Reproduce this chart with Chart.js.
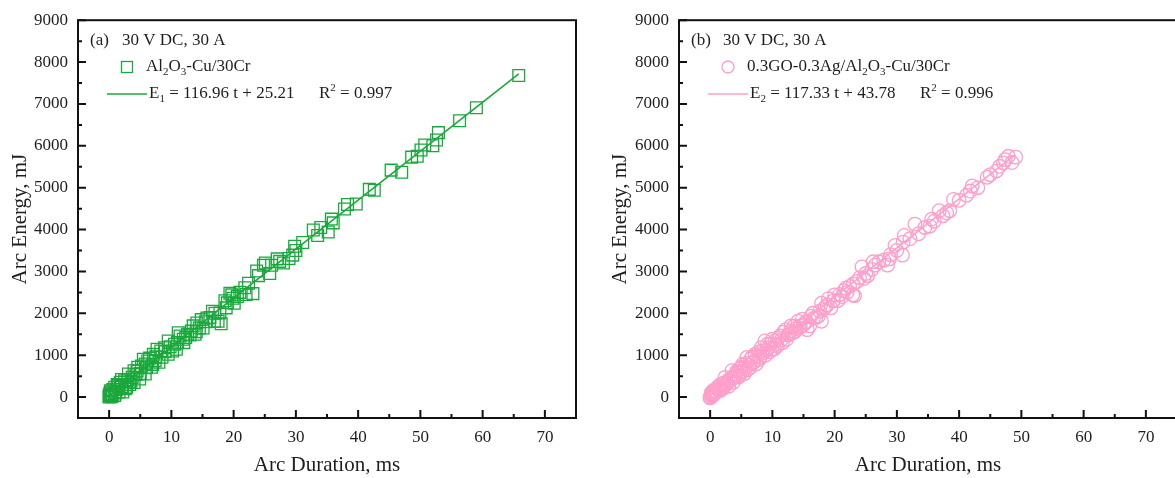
<!DOCTYPE html>
<html>
<head>
<meta charset="utf-8">
<script src="https://cdn.jsdelivr.net/npm/chart.js@4/dist/chart.umd.min.js"></script>
<style>
  html, body { margin: 0; padding: 0; width: 1175px; height: 478px; overflow: hidden; background: #fff; }
  .panel { position: absolute; top: 0; }
</style>
</head>
<body>
<div class="panel" style="left:0px"><canvas id="chartA" width="600" height="478"></canvas></div>
<div class="panel" style="left:600px"><canvas id="chartB" width="600" height="478"></canvas></div>
<script>
// axis ticks
const xTicks = [0, 10, 20, 30, 40, 50, 60, 70];
const xMinorTicks = [5, 15, 25, 35, 45, 55, 65];
const yTicks = [0, 1000, 2000, 3000, 4000, 5000, 6000, 7000, 8000, 9000];
const yMinorTicks = [500, 1500, 2500, 3500, 4500, 5500, 6500, 7500, 8500];

// (a) Al2O3-Cu/30Cr : arc duration (ms) / arc energy (mJ)
const durationA = [0.0, 0.0, 0.1, 0.2, 0.3, 0.2, 0.5, 0.9, 0.9, 1.2, 1.5, 1.8, 1.6, 2.2, 2.5, 2.8, 3.1, 3.3, 3.7, 4.0,
  4.0, 4.6, 4.9, 5.5, 5.8, 5.8, 6.5, 6.8, 7.1, 7.4, 7.7, 8.0, 8.3, 8.9, 9.5, 9.5, 10.5, 10.8, 11.1, 11.4,
  11.9, 12.0, 12.6, 13.2, 13.8, 14.1, 14.5, 14.8, 15.1, 15.7, 16.6, 16.9, 17.5, 17.8, 18.6, 18.8, 19.4, 19.7, 19.9, 20.1,
  20.6, 21.8, 22.4, 23.1, 23.7, 24.8, 25.1, 25.8, 26.1, 27.4, 28.9, 29.5, 29.8, 31.1, 32.8, 33.5, 35.2, 35.7, 36.0, 37.8,
  38.3, 39.7, 41.8, 42.6, 45.3, 47.0, 48.6, 49.5, 50.1, 50.7, 52.0, 52.6, 52.9, 56.3, 59.0, 65.8,
  0.4, 0.6, 1.0, 1.3, 2.0, 2.0, 2.6, 3.0, 3.5, 4.3, 4.5, 5.0, 5.2, 6.0, 6.2, 7.0, 7.5, 8.5, 9.0, 9.8,
  10.2, 11.0, 12.3, 13.0, 13.5, 14.0, 15.5, 16.2, 17.0, 18.0, 19.0, 21.0, 22.0, 24.0, 27.0, 28.0, 30.0, 34.0];
const energyA = [0, 30, 80, 40, 120, 150, 60, 40, 235, 180, 275, 355, 120, 120, 390, 230, 550, 300, 470, 630,
  350, 710, 430, 905, 790, 550, 930, 710, 1020, 870, 1140, 830, 1100, 1180, 1340, 1020, 1260, 1140, 1535, 1460,
  1380, 1300, 1500, 1575, 1500, 1770, 1650, 1850, 1650, 1890, 2050, 1810, 1810, 2010, 2300, 2130, 2480, 2440, 2360, 2240,
  2400, 2610, 2720, 2470, 3010, 3150, 3200, 2950, 3150, 3240, 3310, 3390, 3600, 3690, 3990, 3860, 3940, 4250, 4160, 4490,
  4600, 4610, 4960, 4940, 5420, 5370, 5730, 5750, 5900, 6020, 6000, 6140, 6315, 6600, 6910, 7680,
  10, 180, 100, 300, 250, 420, 200, 420, 380, 540, 620, 560, 740, 700, 860, 780, 960, 950, 1080, 1200,
  1100, 1300, 1420, 1480, 1700, 1560, 1800, 1900, 2000, 1750, 2250, 2500, 2450, 2900, 3300, 3200, 3500, 4050];
const fitDurationA = [0.1, 65.8];
const fitEnergyA = [40, 7720];

// (b) 0.3GO-0.3Ag/Al2O3-Cu/30Cr
const durationB = [0.0, 0.1, 0.2, 0.3, 0.3, 0.6, 0.8, 1.2, 1.4, 1.8, 2.1, 2.4, 2.7, 3.2, 3.5, 3.8, 4.1, 4.4, 4.7, 5.0,
  5.3, 5.6, 5.9, 6.2, 6.5, 6.9, 7.4, 7.6, 7.9, 8.2, 8.5, 8.8, 9.1, 9.4, 9.7, 10.0, 10.3, 10.6, 11.0, 11.2,
  11.6, 12.1, 12.5, 12.9, 13.2, 13.5, 13.8, 14.1, 14.5, 15.0, 15.3, 15.6, 16.2, 16.6, 17.4, 17.6, 17.9, 17.9, 18.5, 19.4,
  20.0, 20.5, 21.2, 21.5, 22.0, 22.4, 22.9, 23.6, 24.4, 24.7, 25.3, 26.2, 27.1, 27.9, 28.5, 28.8, 29.7, 30.9, 31.2, 32.1,
  32.9, 35.3, 35.6, 36.8, 37.4, 38.5, 39.1, 41.2, 41.8, 42.1, 45.0, 46.5, 47.1, 47.4, 47.9, 48.5, 49.1,
  0.0, 0.2, 0.4, 0.5, 0.7, 1.0, 1.0, 1.5, 1.6, 2.0, 2.2, 2.5, 2.9, 3.0, 3.4, 3.7, 4.0, 4.3, 4.6, 4.9,
  5.2, 5.5, 5.8, 6.0, 6.4, 6.7, 7.0, 7.2, 7.8, 8.0, 8.4, 8.9, 9.2, 9.6, 9.9, 10.4, 10.8, 11.4, 11.8, 12.3,
  12.7, 13.0, 13.6, 14.3, 14.8, 15.5, 16.0, 16.5, 17.0, 18.2, 18.8, 19.0, 19.8, 20.8, 21.8, 23.0, 23.2, 24.0, 25.0, 26.0,
  26.5, 29.0, 30.0, 31.0, 33.5, 34.5, 36.0, 38.0, 40.0, 43.0, 44.5, 46.0];
const energyB = [0, 40, 110, 80, 20, 160, 120, 235, 180, 315, 250, 470, 330, 390, 630, 460, 550, 500, 670, 720,
  610, 710, 945, 760, 905, 820, 790, 980, 900, 1180, 1050, 1340, 1120, 1180, 1270, 1380, 1150, 1260, 1420, 1460,
  1300, 1610, 1480, 1575, 1530, 1690, 1640, 1810, 1700, 1730, 1780, 1610, 1930, 1880, 1930, 2050, 2240, 1810, 2150, 2130,
  2440, 2300, 2400, 2540, 2500, 2640, 2440, 2760, 3110, 2830, 2900, 3230, 3230, 3270, 3150, 3300, 3620, 3390, 3860, 3780,
  4130, 4080, 4250, 4450, 4330, 4450, 4720, 4820, 4920, 5040, 5310, 5510, 5590, 5670, 5750, 5600, 5730,
  -20, 60, 140, 40, 90, 130, 200, 270, 150, 200, 330, 290, 400, 260, 460, 350, 500, 620, 480, 600,
  780, 560, 800, 650, 700, 950, 840, 1020, 1080, 950, 1100, 1000, 1260, 1080, 1140, 1340, 1220, 1360, 1550, 1380,
  1500, 1700, 1560, 1650, 1860, 1800, 1700, 2000, 1900, 2100, 2200, 2350, 2300, 2450, 2600, 2700, 2420, 2850, 2950, 3050,
  3150, 3400, 3500, 3700, 3900, 4050, 4200, 4400, 4700, 5000, 5250, 5400];
const fitDurationB = [0.1, 49.0];
const fitEnergyB = [60, 5790];

const GREEN = '#1aa83c';
const PINK = '#ff9fca';
const INK = '#1e1e1e';
const SERIF = '"Liberation Serif", "Times New Roman", serif';

function toPoints(xs, ys) {
  return xs.map((x, i) => ({ x: x, y: ys[i] }));
}

// draw text with sub/superscript pieces
function drawRich(ctx, x, y, parts) {
  let cx = x;
  parts.forEach(([t, kind]) => {
    const size = kind ? 11 : 17;
    ctx.font = size + 'px ' + SERIF;
    const dy = kind === 'sub' ? 5 : (kind === 'sup' ? -6 : 0);
    ctx.fillText(t, cx, y + dy);
    cx += ctx.measureText(t).width;
  });
}

// closed frame with inward ticks
const frameTicks = {
  id: 'frameTicks',
  afterDraw(chart) {
    const { ctx, chartArea: { left, right, top, bottom }, scales: { x, y } } = chart;
    ctx.save();
    ctx.strokeStyle = '#111';
    ctx.lineWidth = 2;
    ctx.strokeRect(left, top, right - left, bottom - top);
    ctx.beginPath();
    xTicks.forEach(v => { const p = x.getPixelForValue(v); ctx.moveTo(p, bottom); ctx.lineTo(p, bottom - 8); });
    xMinorTicks.forEach(v => { const p = x.getPixelForValue(v); ctx.moveTo(p, bottom); ctx.lineTo(p, bottom - 4); });
    yTicks.forEach(v => { const p = y.getPixelForValue(v); ctx.moveTo(left, p); ctx.lineTo(left + 8, p); });
    yMinorTicks.forEach(v => { const p = y.getPixelForValue(v); ctx.moveTo(left, p); ctx.lineTo(left + 4, p); });
    ctx.stroke();
    ctx.restore();
  }
};

// panel label + legend drawn in the top-left corner
const panelNotes = {
  id: 'panelNotes',
  afterDraw(chart, args, opts) {
    const { ctx, chartArea: { left } } = chart;
    ctx.save();
    ctx.fillStyle = INK;
    ctx.textBaseline = 'middle';
    drawRich(ctx, left + 12, 41, [[opts.tag]]);
    drawRich(ctx, left + 44, 41, [['30 V DC, 30 A']]);
    // marker sample
    ctx.strokeStyle = opts.color;
    ctx.lineWidth = 1.3;
    if (opts.marker === 'rect') {
      ctx.strokeRect(left + 43.5, 61.5, 11, 11);
    } else {
      ctx.beginPath();
      ctx.arc(left + 49, 67, 6, 0, Math.PI * 2);
      ctx.stroke();
    }
    ctx.fillStyle = INK;
    drawRich(ctx, left + 68, 67, opts.name);
    // line sample
    ctx.lineWidth = 1.6;
    ctx.beginPath();
    ctx.moveTo(left + 29, 94);
    ctx.lineTo(left + 69, 94);
    ctx.stroke();
    drawRich(ctx, left + 71, 94, opts.fit);
    drawRich(ctx, left + 241, 94, opts.r2);
    ctx.restore();
  }
};

function makeChart(id, xs, ys, fx, fy, color, marker, radius, yAxisWidth, rightPad, notes) {
  const ctx = document.getElementById(id).getContext('2d');
  return new Chart(ctx, {
    type: 'scatter',
    data: {
      datasets: [
        {
          type: 'line',
          data: toPoints(fx, fy),
          borderColor: color,
          borderWidth: 1.6,
          pointRadius: 0,
          fill: false
        },
        {
          data: toPoints(xs, ys),
          pointStyle: marker,
          pointRadius: radius,
          pointBorderColor: color,
          pointBackgroundColor: 'rgba(0,0,0,0)',
          pointBorderWidth: 1.3,
          borderColor: color
        }
      ]
    },
    options: {
      responsive: false,
      animation: false,
      layout: { padding: { top: 17, right: rightPad, left: 0, bottom: 0 } },
      plugins: {
        legend: { display: false },
        tooltip: { enabled: false },
        panelNotes: notes
      },
      scales: {
        x: {
          type: 'linear',
          min: -5,
          max: 75,
          afterBuildTicks: axis => { axis.ticks = xTicks.map(v => ({ value: v })); },
          afterFit: axis => { axis.height = 60; },
          grid: { display: false, drawTicks: false },
          border: { display: false },
          ticks: { padding: 9, color: INK, font: { family: SERIF, size: 17 }, maxRotation: 0, callback: v => String(v) },
          title: {
            display: true,
            text: 'Arc Duration, ms',
            color: INK,
            font: { family: SERIF, size: 21 },
            padding: { top: 0, bottom: 0 }
          }
        },
        y: {
          type: 'linear',
          min: -500,
          max: 9000,
          afterBuildTicks: axis => { axis.ticks = yTicks.map(v => ({ value: v })); },
          afterFit: axis => { axis.width = yAxisWidth; },
          grid: { display: false, drawTicks: false },
          border: { display: false },
          ticks: { padding: 10, color: INK, font: { family: SERIF, size: 17 }, callback: v => String(v) },
          title: {
            display: true,
            text: 'Arc Energy, mJ',
            color: INK,
            font: { family: SERIF, size: 21 },
            padding: { top: 8, bottom: 0 }
          }
        }
      }
    },
    plugins: [frameTicks, panelNotes]
  });
}

makeChart('chartA', durationA, energyA, fitDurationA, fitEnergyA, GREEN, 'rect', 8.3, 78, 24, {
  tag: '(a)', color: GREEN, marker: 'rect',
  name: [['Al'], ['2', 'sub'], ['O'], ['3', 'sub'], ['-Cu/30Cr']],
  fit: [['E'], ['1', 'sub'], [' = 116.96 t + 25.21']],
  r2: [['R'], ['2', 'sup'], [' = 0.997']]
});

makeChart('chartB', durationB, energyB, fitDurationB, fitEnergyB, PINK, 'circle', 6.8, 79, 23, {
  tag: '(b)', color: PINK, marker: 'circle',
  name: [['0.3GO-0.3Ag/Al'], ['2', 'sub'], ['O'], ['3', 'sub'], ['-Cu/30Cr']],
  fit: [['E'], ['2', 'sub'], [' = 117.33 t + 43.78']],
  r2: [['R'], ['2', 'sup'], [' = 0.996']]
});
</script>
</body>
</html>
